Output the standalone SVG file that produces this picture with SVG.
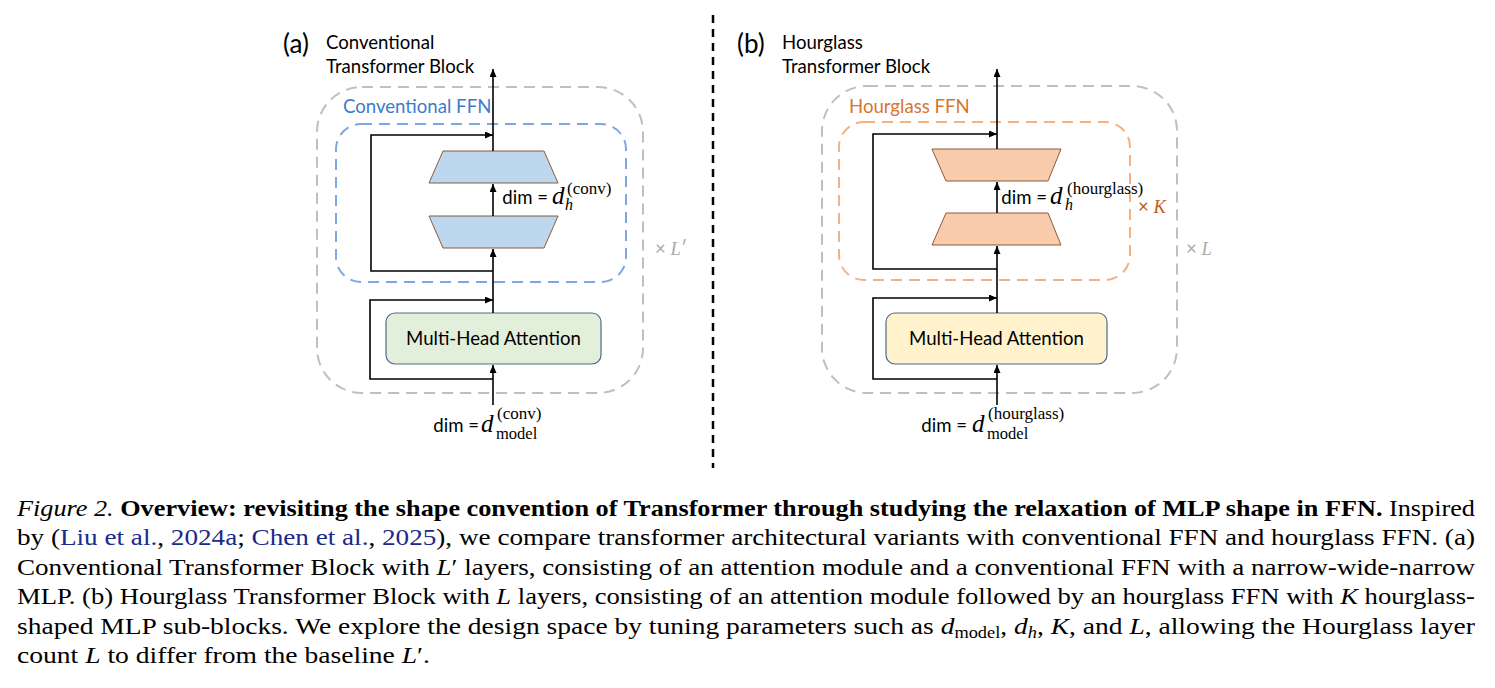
<svg xmlns="http://www.w3.org/2000/svg" width="1495" height="688" viewBox="0 0 1495 688">
<defs>
<marker id="ah" markerWidth="8" markerHeight="7" refX="8" refY="3.5" orient="auto" markerUnits="userSpaceOnUse"><path d="M0,0 L8,3.5 L0,7 z" fill="#000"/></marker>
</defs>
<style>
.lbl{font-family:Lato,"Liberation Sans",sans-serif;font-size:18.6px;fill:#000}
.big{font-size:26px}
.math{font-family:"Times New Roman","Liberation Serif",Tinos,"Nimbus Roman","Noto Serif",serif;font-style:italic}
.up{font-family:"Times New Roman","Liberation Serif",Tinos,"Nimbus Roman","Noto Serif",serif;font-style:normal}
.gbox{fill:none;stroke:#bfbfbf;stroke-width:2;stroke-dasharray:11 7}
.bbox{fill:none;stroke:#7ea6e0;stroke-width:2;stroke-dasharray:11 7}
.obox{fill:none;stroke:#f4b183;stroke-width:2;stroke-dasharray:11 7}
.wire{fill:none;stroke:#000;stroke-width:1.6}
.arr{marker-end:url(#ah)}
.trapb{fill:#bdd7ee;stroke:#8b5a3c;stroke-width:1}
.trapo{fill:#f8cbad;stroke:#8b5a3c;stroke-width:1}
.cap{font-family:"Times New Roman","Liberation Serif",Tinos,"Nimbus Roman","Noto Serif",serif;font-size:24px;fill:#000}
.cite{fill:#1b2a8c}
.mi{font-style:italic}
</style>
<rect width="1495" height="688" fill="#fff"/>

<!-- divider -->
<line x1="713" y1="15" x2="713" y2="468" stroke="#000" stroke-width="2.5" stroke-dasharray="8 6"/>

<!-- (a) conventional -->
<g id="a-title">
<text class="lbl big" x="283" y="53">(a)</text>
<text class="lbl" x="326" y="49">Conventional</text>
<text class="lbl" x="326" y="73">Transformer Block</text>
</g>
<g id="a-block">
<rect class="gbox" x="317" y="87" width="326" height="306" rx="45"/>
<text class="lbl" x="655" y="255" style="fill:#aaa">× <tspan class="math">L</tspan>′</text>
</g>
<g id="a-ffn">
<rect class="bbox" x="336" y="124" width="290" height="158" rx="25"/>
<text class="lbl" x="343" y="113" style="fill:#3d7cc9">Conventional FFN</text>
</g>
<g id="a-up">
<polygon class="trapb" points="443,151 544,151 558,183 429,183"/>
</g>
<g id="a-down">
<polygon class="trapb" points="429,216 558,216 544,248 443,248"/>
</g>
<g id="a-dimh">
<text class="lbl" x="548" y="204" text-anchor="end">dim =</text>
<text class="math" x="552" y="204" font-size="25">d</text>
<text class="math" x="565" y="210" font-size="16">h</text>
<text class="up" x="567" y="194" font-size="17">(conv)</text>
</g>
<g id="a-mha">
<rect x="386" y="313" width="215" height="51" rx="9" fill="#e2efda" stroke="#4e6a8a" stroke-width="1.2"/>
<text class="lbl" x="493.5" y="345" text-anchor="middle">Multi-Head Attention</text>
</g>
<g id="a-input">
<text class="lbl" x="479" y="432" text-anchor="end">dim =</text>
<text class="math" x="481" y="432" font-size="25">d</text>
<text class="up" x="496" y="439" font-size="16.5">model</text>
<text class="up" x="497" y="419" font-size="17">(conv)</text>
</g>

<!-- (b) hourglass -->
<g id="b-title">
<text class="lbl big" x="737" y="53">(b)</text>
<text class="lbl" x="782" y="49">Hourglass</text>
<text class="lbl" x="782" y="73">Transformer Block</text>
</g>
<g id="b-block">
<rect class="gbox" x="822" y="86" width="355" height="307" rx="45"/>
<text class="lbl" x="1186" y="255" style="fill:#aaa">× <tspan class="math">L</tspan></text>
</g>
<g id="b-ffn">
<rect class="obox" x="839" y="122" width="291" height="158" rx="25"/>
<text class="lbl" x="849" y="113" style="fill:#d9742c">Hourglass FFN</text>
<text class="lbl" x="1138" y="213" style="fill:#c55a11">× <tspan class="math">K</tspan></text>
</g>
<g id="b-up">
<polygon class="trapo" points="932,149 1061,149 1048,181 946,181"/>
</g>
<g id="b-down">
<polygon class="trapo" points="946,213 1048,213 1061,245 932,245"/>
</g>
<g id="b-dimh">
<text class="lbl" x="1047" y="204" text-anchor="end">dim =</text>
<text class="math" x="1050" y="204" font-size="25">d</text>
<text class="math" x="1065" y="210" font-size="16">h</text>
<text class="up" x="1067" y="194" font-size="17">(hourglass)</text>
</g>
<g id="b-mha">
<rect x="886" y="313" width="221" height="51" rx="9" fill="#fff2cc" stroke="#4e6a8a" stroke-width="1.2"/>
<text class="lbl" x="996.5" y="345" text-anchor="middle">Multi-Head Attention</text>
</g>
<g id="b-input">
<text class="lbl" x="967" y="432" text-anchor="end">dim =</text>
<text class="math" x="972" y="432" font-size="25">d</text>
<text class="up" x="987" y="439" font-size="16.5">model</text>
<text class="up" x="988" y="419" font-size="17">(hourglass)</text>
</g>

<g id="connectors">
<line class="wire arr" x1="493" y1="151" x2="493" y2="69"/>
<line class="wire arr" x1="493" y1="216" x2="493" y2="184"/>
<line class="wire arr" x1="493" y1="313" x2="493" y2="249"/>
<line class="wire arr" x1="493" y1="405" x2="493" y2="365"/>
<polyline class="wire arr" points="493,271 371,271 371,135 493,135"/>
<polyline class="wire arr" points="493,379 370,379 370,300 493,300"/>
<line class="wire arr" x1="997" y1="149" x2="997" y2="69"/>
<line class="wire arr" x1="997" y1="213" x2="997" y2="182"/>
<line class="wire arr" x1="997" y1="313" x2="997" y2="246"/>
<line class="wire arr" x1="997" y1="405" x2="997" y2="365"/>
<polyline class="wire arr" points="997,269 873,269 873,134 997,134"/>
<polyline class="wire arr" points="997,379 873,379 873,298 997,298"/>
</g>

<g id="caption">
<text class="cap" x="17" y="516" textLength="1458" lengthAdjust="spacingAndGlyphs"><tspan font-style="italic">Figure 2.</tspan> <tspan font-weight="bold">Overview: revisiting the shape convention of Transformer through studying the relaxation of MLP shape in FFN.</tspan> Inspired</text>
<text class="cap" x="17" y="545.4" textLength="1458" lengthAdjust="spacingAndGlyphs">by (<tspan class="cite">Liu et al.</tspan>, <tspan class="cite">2024a</tspan>; <tspan class="cite">Chen et al.</tspan>, <tspan class="cite">2025</tspan>), we compare transformer architectural variants with conventional FFN and hourglass FFN. (a)</text>
<text class="cap" x="17" y="574.8" textLength="1458" lengthAdjust="spacingAndGlyphs">Conventional Transformer Block with <tspan class="mi">L</tspan>′ layers, consisting of an attention module and a conventional FFN with a narrow-wide-narrow</text>
<text class="cap" x="17" y="604.2" textLength="1458" lengthAdjust="spacingAndGlyphs">MLP. (b) Hourglass Transformer Block with <tspan class="mi">L</tspan> layers, consisting of an attention module followed by an hourglass FFN with <tspan class="mi">K</tspan> hourglass-</text>
<text class="cap" x="17" y="633.6" textLength="1458" lengthAdjust="spacingAndGlyphs">shaped MLP sub-blocks. We explore the design space by tuning parameters such as <tspan class="mi">d</tspan><tspan font-size="16" dy="4">model</tspan><tspan dy="-4">, </tspan><tspan class="mi">d</tspan><tspan class="mi" font-size="16" dy="4">h</tspan><tspan dy="-4">, </tspan><tspan class="mi">K</tspan>, and <tspan class="mi">L</tspan>, allowing the Hourglass layer</text>
<text class="cap" x="17" y="663" textLength="413" lengthAdjust="spacingAndGlyphs">count <tspan class="mi">L</tspan> to differ from the baseline <tspan class="mi">L</tspan>′.</text>
</g>
</svg>
